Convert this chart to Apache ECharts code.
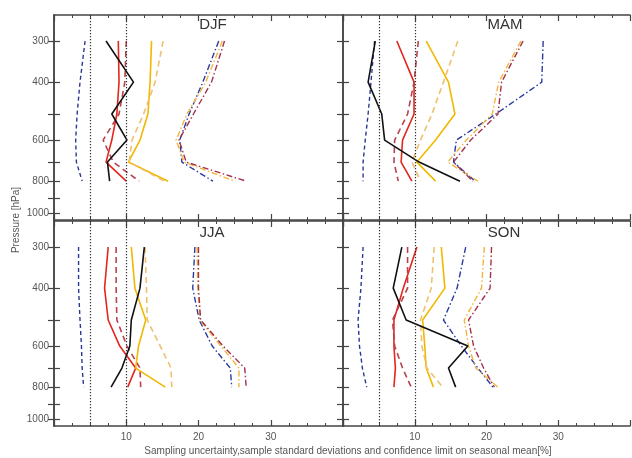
<!DOCTYPE html>
<html>
<head>
<meta charset="utf-8">
<script src="https://cdn.jsdelivr.net/npm/echarts@6/dist/echarts.min.js"></script>
<style>
html, body { margin: 0; padding: 0; background: #fff; }
#chart { width: 632px; height: 458px; }
</style>
</head>
<body>
<div id="chart"></div>
<script>
// pressure levels of the profiles [hPa]
const levels = [300, 400, 500, 600, 700, 800];
const seasons = ['DJF', 'MAM', 'JJA', 'SON'];
const pTicks = [300, 400, 500, 600, 700, 800, 900, 1000];
const pLabels = [300, 400, 600, 800, 1000];
const xLabels = [10, 20, 30];
const refLines = [5, 10];

// DJF
const djfBlueDash = [4.3, 3.6, 3.2, 3.0, 3.1, 3.9];
const djfRed = [8.9, 9.0, 8.7, 8.0, 7.2, 10.0];
const djfRedDash = [10.0, 9.8, 9.0, 6.8, 8.2, 11.8];
const djfGold = [13.5, 13.3, 13.0, 11.9, 10.3, 15.8];
const djfGoldDash = [15.1, 14.0, 12.4, 10.8, 10.4, 15.3];
const djfBlack = [7.2, 11.0, 8.0, 10.1, 7.4, 7.7];
const djfBlueDot = [22.8, 20.6, 18.7, 17.4, 17.7, 22.0];
const djfOrangeDot = [23.3, 21.0, 18.4, 16.9, 18.0, 25.0];
const djfRedDot = [23.6, 21.8, 19.3, 17.3, 18.3, 26.6];

// MAM
const mamBlueDash = [4.4, 3.9, 3.5, 3.1, 2.8, 2.8];
const mamRed = [7.5, 9.9, 9.9, 8.3, 8.1, 9.6];
const mamRedDash = [10.5, 9.9, 9.0, 7.2, 7.1, 7.7];
const mamGold = [11.6, 14.7, 15.6, 12.9, 10.3, 12.9];
const mamGoldDash = [16.0, 14.0, 12.4, 10.8, 9.6, 10.8];
const mamBlack = [4.5, 3.5, 5.4, 5.8, 10.6, 16.3];
const mamBlueDot = [27.9, 27.7, 21.3, 15.8, 15.4, 18.4];
const mamOrangeDot = [24.8, 21.7, 20.8, 17.2, 14.6, 18.8];
const mamRedDot = [25.1, 22.1, 21.6, 17.8, 15.4, 18.1];

// JJA
const jjaBlueDash = [3.4, 3.4, 3.6, 3.8, 3.9, 4.1];
const jjaRed = [7.5, 7.0, 7.5, 9.1, 11.3, 10.2];
const jjaRedDash = [8.6, 8.6, 8.7, 10.1, 11.9, 12.0];
const jjaGold = [10.7, 11.2, 12.7, 11.7, 11.3, 15.4];
const jjaGoldDash = [12.6, 12.8, 12.9, 14.7, 16.2, 16.3];
const jjaBlack = [12.5, 11.9, 10.7, 10.5, 9.4, 7.9];
const jjaBlueDot = [19.5, 19.2, 20.1, 21.9, 24.4, 24.6];
const jjaOrangeDot = [19.8, 19.9, 20.2, 23.1, 25.6, 25.6];
const jjaRedDot = [20.0, 20.0, 20.3, 23.4, 26.4, 26.6];

// SON
const sonBlueDash = [2.8, 2.5, 2.1, 2.3, 2.7, 3.3];
const sonRed = [10.3, 8.4, 7.1, 7.1, 7.3, 7.1];
const sonRedDash = [9.0, 9.0, 6.9, 7.2, 8.3, 9.5];
const sonGold = [13.7, 14.2, 11.1, 11.4, 11.6, 12.6];
const sonGoldDash = [12.7, 12.3, 10.8, 11.0, 11.7, 13.9];
const sonBlack = [8.2, 7.0, 8.8, 17.4, 14.7, 15.7];
const sonBlueDot = [17.1, 15.9, 14.0, 16.5, 18.8, 20.9];
const sonOrangeDot = [19.7, 19.3, 16.9, 17.5, 18.5, 21.6];
const sonRedDot = [20.7, 20.5, 17.5, 18.2, 19.6, 21.1];

const profiles = [
  [djfBlueDash, djfRed, djfRedDash, djfGold, djfGoldDash, djfBlack, djfBlueDot, djfOrangeDot, djfRedDot],
  [mamBlueDash, mamRed, mamRedDash, mamGold, mamGoldDash, mamBlack, mamBlueDot, mamOrangeDot, mamRedDot],
  [jjaBlueDash, jjaRed, jjaRedDash, jjaGold, jjaGoldDash, jjaBlack, jjaBlueDot, jjaOrangeDot, jjaRedDot],
  [sonBlueDash, sonRed, sonRedDash, sonGold, sonGoldDash, sonBlack, sonBlueDot, sonOrangeDot, sonRedDot]
];

const dashDot = [6, 2.5, 1.5, 2.5];
const lineStyles = [
  { color: '#2b3796', type: [4, 3], width: 1.4 },
  { color: '#e3261d', type: 'solid', width: 1.6 },
  { color: '#b8434e', type: [6, 4], width: 1.6 },
  { color: '#f0b800', type: 'solid', width: 1.6 },
  { color: '#eec070', type: [6, 4], width: 1.6 },
  { color: '#111111', type: 'solid', width: 1.6 },
  { color: '#2a3aa0', type: dashDot, width: 1.4 },
  { color: '#f2b53c', type: dashDot, width: 1.4 },
  { color: '#a3304c', type: dashDot, width: 1.4 }
];

const grids = [
  { left: 54, top: 15, width: 289, height: 205 },
  { left: 343, top: 15, width: 287, height: 205 },
  { left: 54, top: 221, width: 289, height: 205 },
  { left: 343, top: 221, width: 287, height: 205 }
];
const titlePos = [[213, 25], [505, 25], [212, 233], [504, 233]];

const font = 'Liberation Sans, Arial, sans-serif';
const axisLine = { show: true, lineStyle: { color: '#444', width: 1.5 } };
const lg = (p) => Math.log10(p);

const xAxes = [];
const yAxes = [];
const series = [];

grids.forEach((g, i) => {
  ['bottom', 'top'].forEach((pos) => {
    xAxes.push({
      type: 'value', gridIndex: i, position: pos,
      min: 0, max: 40, interval: 10,
      axisLine: axisLine,
      axisTick: { inside: true, length: 6, lineStyle: { color: '#444', width: 1.2 } },
      minorTick: { show: true, splitNumber: 4, length: 3, lineStyle: { color: '#444', width: 1 } },
      splitLine: { show: false },
      axisLabel: {
        show: pos === 'bottom' && i >= 2,
        customValues: xLabels,
        color: '#555', fontSize: 10, fontFamily: font, margin: 6
      }
    });
  });
  ['left', 'right'].forEach((pos) => {
    yAxes.push({
      type: 'value', gridIndex: i, position: pos, inverse: true,
      min: lg(250), max: lg(1050),
      axisLine: axisLine,
      axisTick: { inside: true, length: 6, customValues: pTicks.map(lg), lineStyle: { color: '#444', width: 1.2 } },
      splitLine: { show: false },
      axisLabel: {
        show: pos === 'left' && i % 2 === 0,
        customValues: pLabels.map(lg),
        formatter: (v) => String(Math.round(Math.pow(10, v))),
        color: '#555', fontSize: 10, fontFamily: font, margin: 5
      }
    });
  });

  profiles[i].forEach((vals, k) => {
    const s = {
      type: 'line',
      xAxisIndex: i * 2,
      yAxisIndex: i * 2,
      data: vals.map((v, j) => [v, lg(levels[j])]),
      symbol: 'none',
      silent: true,
      lineStyle: lineStyles[k],
      z: k === 5 ? 4 : 3
    };
    if (k === 0) {
      s.markLine = {
        silent: true, symbol: 'none',
        label: { show: false },
        lineStyle: { color: '#333', type: [1.2, 1.8], width: 1.2 },
        data: refLines.map((x) => ({ xAxis: x }))
      };
    }
    series.push(s);
  });
});

const graphics = seasons.map((s, i) => ({
  type: 'text', x: titlePos[i][0], y: titlePos[i][1],
  style: { text: s, fill: '#333', font: '15px ' + font, textAlign: 'center', textVerticalAlign: 'middle' }
}));
graphics.push({
  type: 'text', x: 16, y: 220, rotation: Math.PI / 2,
  style: { text: 'Pressure [hPa]', fill: '#555', font: '10px ' + font, textAlign: 'center', textVerticalAlign: 'middle' }
});
graphics.push({
  type: 'text', x: 348, y: 451,
  style: { text: 'Sampling uncertainty,sample standard deviations and confidence limit on seasonal mean[%]', fill: '#555', font: '10px ' + font, textAlign: 'center', textVerticalAlign: 'middle' }
});

const chart = echarts.init(document.getElementById('chart'), null, { renderer: 'canvas' });
chart.setOption({
  animation: false,
  backgroundColor: '#fff',
  grid: grids.map((g) => Object.assign({ outerBoundsMode: 'none' }, g)),
  xAxis: xAxes,
  yAxis: yAxes,
  series: series,
  graphic: graphics
});
</script>
</body>
</html>
